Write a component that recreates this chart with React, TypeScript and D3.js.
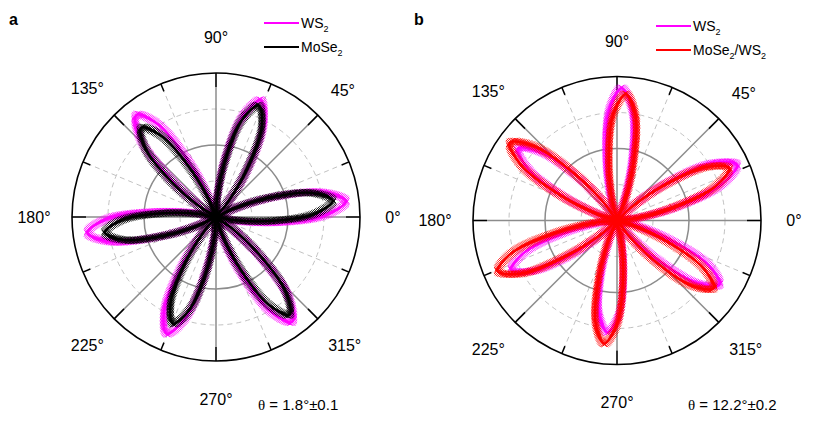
import React, { useEffect, useRef } from "react";
import * as d3 from "d3";

const W = 830;
const H = 434;
const R = 144;

// [angle in degrees, normalized SHG intensity]
const ws2A = [
  [-11, 0.14], [-5, 0.43], [1, 0.76], [7, 0.91], [13, 0.76], [19, 0.43], [25, 0.14], [37, 0],
  [51, 0.13], [57, 0.41], [63, 0.73], [69, 0.87], [75, 0.73], [81, 0.41], [87, 0.13], [98, 0],
  [110, 0.14], [116, 0.42], [122, 0.76], [128, 0.9], [134, 0.76], [140, 0.42], [146, 0.14], [157, 0],
  [169, 0.14], [175, 0.42], [181, 0.76], [187, 0.9], [193, 0.76], [199, 0.42], [205, 0.14], [217, 0],
  [229, 0.13], [235, 0.41], [241, 0.74], [247, 0.88], [253, 0.74], [259, 0.41], [265, 0.13], [276, 0],
  [288, 0.14], [294, 0.42], [300, 0.76], [306, 0.9], [312, 0.76], [318, 0.42], [324, 0.14], [336, 0],
];

const mose2A = [
  [-10, 0.12], [-4, 0.39], [2, 0.69], [8, 0.82], [14, 0.69], [20, 0.39], [26, 0.12], [38, 0],
  [51, 0.12], [57, 0.39], [63, 0.7], [69, 0.83], [75, 0.7], [81, 0.39], [87, 0.12], [99, 0],
  [112, 0.12], [118, 0.38], [124, 0.68], [130, 0.81], [136, 0.68], [142, 0.38], [148, 0.12], [159, 0],
  [170, 0.12], [176, 0.37], [182, 0.66], [188, 0.78], [194, 0.66], [200, 0.37], [206, 0.12], [218, 0],
  [230, 0.12], [236, 0.38], [242, 0.67], [248, 0.8], [254, 0.67], [260, 0.38], [266, 0.12], [277, 0],
  [289, 0.13], [295, 0.4], [301, 0.71], [307, 0.85], [313, 0.71], [319, 0.4], [325, 0.13], [337, 0],
];

const ws2B = [
  [7, 0.14], [13, 0.43], [19, 0.77], [25, 0.92], [31, 0.77], [37, 0.43], [43, 0.14], [56, 0],
  [70, 0.14], [76, 0.43], [82, 0.77], [88, 0.92], [94, 0.77], [100, 0.43], [106, 0.14], [116, 0],
  [126, 0.13], [132, 0.4], [138, 0.71], [144, 0.85], [150, 0.71], [156, 0.4], [162, 0.13], [175, 0],
  [187, 0.12], [193, 0.38], [199, 0.68], [205, 0.81], [211, 0.68], [217, 0.38], [223, 0.12], [235, 0],
  [247, 0.12], [253, 0.37], [259, 0.66], [265, 0.78], [271, 0.66], [277, 0.37], [283, 0.12], [296, 0],
  [310, 0.13], [316, 0.39], [322, 0.71], [328, 0.84], [334, 0.71], [340, 0.39], [346, 0.13], [356, 0],
];

const heteroB = [
  [7, 0.13], [13, 0.4], [19, 0.72], [25, 0.86], [31, 0.72], [37, 0.4], [43, 0.13], [55, 0],
  [68, 0.13], [74, 0.41], [80, 0.74], [86, 0.88], [92, 0.74], [98, 0.41], [104, 0.13], [115, 0],
  [126, 0.14], [132, 0.43], [138, 0.77], [144, 0.92], [150, 0.77], [156, 0.43], [162, 0.14], [173, 0],
  [185, 0.14], [191, 0.42], [197, 0.76], [203, 0.9], [209, 0.76], [215, 0.42], [221, 0.14], [234, 0],
  [246, 0.13], [252, 0.4], [258, 0.72], [264, 0.86], [270, 0.72], [276, 0.4], [282, 0.13], [295, 0],
  [307, 0.12], [313, 0.39], [319, 0.69], [325, 0.82], [331, 0.69], [337, 0.39], [343, 0.12], [355, 0],
];

const majorAngles = [0, 45, 90, 135, 180, 225, 270, 315];
const minorAngles = [22.5, 67.5, 112.5, 157.5, 202.5, 247.5, 292.5, 337.5];
const angleLabels = ["0°", "45°", "90°", "135°", "180°", "225°", "270°", "315°"];
const solidRings = [0.5];
const dashedRings = [0.25, 0.75];

const panels = [
  {
    tag: "a", cx: 216, cy: 217, tagX: 9, legX: 264, legY: 23, noteX: 258,
    note: "1.8°±0.1",
    series: [
      { name: ["WS", "2"], data: ws2A, color: "#ff00ff" },
      { name: ["MoSe", "2"], data: mose2A, color: "#000000" },
    ],
  },
  {
    tag: "b", cx: 617, cy: 220.5, tagX: 414, legX: 656, legY: 26, noteX: 688,
    note: "12.2°±0.2",
    series: [
      { name: ["WS", "2"], data: ws2B, color: "#ff00ff" },
      { name: ["MoSe", "2", "/WS", "2"], data: heteroB, color: "#ff0000" },
    ],
  },
];

const FONT = "Liberation Sans, Arial, sans-serif";

const App = () => {
  const ref = useRef(null);

  useEffect(() => {
    const svg = d3.select(ref.current);
    svg.selectAll("*").remove();

    const rScale = d3.scaleLinear().domain([0, 1]).range([0, R]);
    // math angle (ccw from +x) -> d3 radial angle (cw from 12 o'clock)
    const aScale = d3.scaleLinear().domain([0, 360]).range([Math.PI / 2, Math.PI / 2 - 2 * Math.PI]);
    const pt = (deg, r) => {
      const a = aScale(deg);
      return [r * Math.sin(a), -r * Math.cos(a)];
    };

    panels.forEach(p => {
      const g = svg.append("g").attr("transform", `translate(${p.cx},${p.cy})`);

      // dashed minor grid
      dashedRings.forEach(v => {
        g.append("circle").attr("r", rScale(v)).attr("fill", "none")
          .attr("stroke", "#c2c2c2").attr("stroke-width", 1).attr("stroke-dasharray", "5,4");
      });
      minorAngles.forEach(deg => {
        const [x, y] = pt(deg, R - 8);
        g.append("line").attr("x1", 0).attr("y1", 0).attr("x2", x).attr("y2", y)
          .attr("stroke", "#c2c2c2").attr("stroke-width", 1).attr("stroke-dasharray", "5,4");
        const [x1, y1] = pt(deg, R);
        g.append("line").attr("x1", x).attr("y1", y).attr("x2", x1).attr("y2", y1)
          .attr("stroke", "#000").attr("stroke-width", 1.5);
      });

      // solid major grid
      solidRings.forEach(v => {
        g.append("circle").attr("r", rScale(v)).attr("fill", "none")
          .attr("stroke", "#8c8c8c").attr("stroke-width", 1.5);
      });
      majorAngles.forEach(deg => {
        const [x, y] = pt(deg, R - 14);
        g.append("line").attr("x1", 0).attr("y1", 0).attr("x2", x).attr("y2", y)
          .attr("stroke", "#8c8c8c").attr("stroke-width", 1.5);
        const [x1, y1] = pt(deg, R);
        g.append("line").attr("x1", x).attr("y1", y).attr("x2", x1).attr("y2", y1)
          .attr("stroke", "#000").attr("stroke-width", 1.6);
      });

      g.append("circle").attr("r", R).attr("fill", "none")
        .attr("stroke", "#000").attr("stroke-width", 1.6);

      // angle labels
      majorAngles.forEach((deg, i) => {
        const lab = angleLabels[i];
        const [x, y] = pt(deg, 172 + 2.5 * lab.length);
        g.append("text").attr("x", x).attr("y", y)
          .attr("text-anchor", "middle").attr("dominant-baseline", "central")
          .attr("font-family", FONT).attr("font-size", 16).text(lab);
      });

      // data: dense scatter of x markers along the measured curve
      const line = d3.lineRadial()
        .angle(d => aScale(d[0]))
        .radius(d => rScale(d[1]))
        .curve(d3.curveCatmullRomClosed.alpha(0.5));
      const sym = d3.symbol(d3.symbolTimes, 34);
      p.series.forEach(s => {
        const path = g.append("path").attr("d", line(s.data))
          .attr("fill", "none").attr("stroke", s.color).attr("stroke-width", 2.4);
        const node = path.node();
        const len = node.getTotalLength();
        const marks = g.append("g").attr("stroke", s.color).attr("stroke-width", 0.9).attr("fill", "none");
        for (let l = 0; l < len; l += 1.5) {
          const q = node.getPointAtLength(l);
          marks.append("path").attr("d", sym()).attr("transform", `translate(${q.x},${q.y})`);
        }
      });

      // legend
      p.series.forEach((s, i) => {
        const y = p.legY + i * 24;
        svg.append("line").attr("x1", p.legX).attr("x2", p.legX + 35).attr("y1", y).attr("y2", y)
          .attr("stroke", s.color).attr("stroke-width", 2);
        const t = svg.append("text").attr("x", p.legX + 37).attr("y", y + 5)
          .attr("font-family", FONT).attr("font-size", 14);
        s.name.forEach((part, k) => {
          const sub = k % 2 === 1;
          t.append("tspan").attr("font-size", sub ? 9 : 14)
            .attr("dy", sub ? 4 : (k > 0 ? -4 : 0)).text(part);
        });
      });

      // panel tag
      svg.append("text").attr("x", p.tagX).attr("y", 25)
        .attr("font-family", FONT).attr("font-weight", "bold").attr("font-size", 16).text(p.tag);

      // angle annotation
      const n = svg.append("text").attr("x", p.noteX).attr("y", 410)
        .attr("font-family", FONT).attr("font-size", 15);
      n.append("tspan").attr("font-family", "Liberation Serif, serif").text("θ");
      n.append("tspan").text(" = " + p.note);
    });
  }, []);

  return (
    <svg
      ref={ref}
      width={W}
      height={H}
      style={{ position: "absolute", left: 0, top: 0, background: "#fff" }}
    />
  );
};

export default App;
